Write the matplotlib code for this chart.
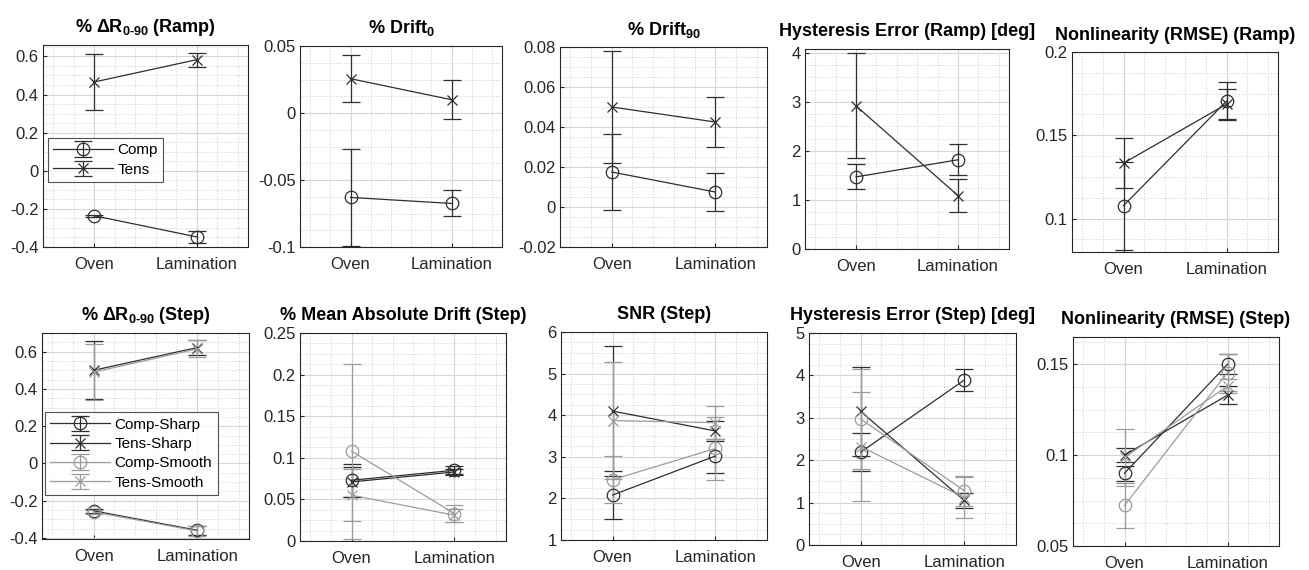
import matplotlib
matplotlib.use('Agg')
import matplotlib.pyplot as plt
import numpy as np
from matplotlib.ticker import MultipleLocator, FuncFormatter

plt.rcParams['font.family'] = ['Liberation Sans', 'DejaVu Sans']
plt.rcParams['mathtext.fontset'] = 'custom'
plt.rcParams['mathtext.rm'] = 'Liberation Sans'
plt.rcParams['mathtext.bf'] = 'Liberation Sans:bold'
plt.rcParams['mathtext.it'] = 'Liberation Sans:italic'

# ---------------- data ----------------
conditions = ['Oven', 'Lamination']
ramp_labels = ['Comp', 'Tens']
step_labels = ['Comp-Sharp', 'Tens-Sharp', 'Comp-Smooth', 'Tens-Smooth']

# Ramp (top row): values at [Oven, Lamination]
dR_ramp_comp = [-0.236, -0.347]
dR_ramp_comp_err = [0.006, 0.030]
dR_ramp_tens = [0.466, 0.583]
dR_ramp_tens_err = [0.148, 0.037]

drift0_comp = [-0.063, -0.0675]
drift0_comp_err = [0.036, 0.0097]
drift0_tens = [0.0256, 0.0099]
drift0_tens_err = [0.0175, 0.0145]

drift90_comp = [0.0175, 0.0075]
drift90_comp_err = [0.019, 0.0095]
drift90_tens = [0.050, 0.0425]
drift90_tens_err = [0.028, 0.0125]

hyst_ramp_comp = [1.47, 1.82]
hyst_ramp_comp_err = [0.255, 0.32]
hyst_ramp_tens = [2.92, 1.09]
hyst_ramp_tens_err = [1.07, 0.345]

nonlin_ramp_comp = [0.1078, 0.1705]
nonlin_ramp_comp_err = [0.0263, 0.0115]
nonlin_ramp_tens = [0.1333, 0.1687]
nonlin_ramp_tens_err = [0.0150, 0.009]

# Step (bottom row): values at [Oven, Lamination]
dR_step_comp_sharp = [-0.254, -0.358]
dR_step_comp_sharp_err = [0.010, 0.025]
dR_step_tens_sharp = [0.500, 0.622]
dR_step_tens_sharp_err = [0.155, 0.040]
dR_step_comp_smooth = [-0.260, -0.362]
dR_step_comp_smooth_err = [0.010, 0.028]
dR_step_tens_smooth = [0.490, 0.615]
dR_step_tens_smooth_err = [0.150, 0.045]

mad_step_comp_sharp = [0.073, 0.085]
mad_step_comp_sharp_err = [0.020, 0.005]
mad_step_tens_sharp = [0.071, 0.083]
mad_step_tens_sharp_err = [0.018, 0.004]
mad_step_comp_smooth = [0.108, 0.033]
mad_step_comp_smooth_err = [0.105, 0.010]
mad_step_tens_smooth = [0.055, 0.031]
mad_step_tens_smooth_err = [0.031, 0.008]

snr_comp_sharp = [2.08, 3.02]
snr_comp_sharp_err = [0.57, 0.40]
snr_tens_sharp = [4.10, 3.62]
snr_tens_sharp_err = [1.56, 0.25]
snr_comp_smooth = [2.45, 3.20]
snr_comp_smooth_err = [0.56, 0.75]
snr_tens_smooth = [3.87, 3.82]
snr_tens_smooth_err = [1.40, 0.40]

hyst_step_comp_sharp = [2.19, 3.89]
hyst_step_comp_sharp_err = [0.45, 0.25]
hyst_step_tens_sharp = [3.15, 1.05]
hyst_step_tens_sharp_err = [1.05, 0.18]
hyst_step_comp_smooth = [2.97, 1.28]
hyst_step_comp_smooth_err = [1.18, 0.35]
hyst_step_tens_smooth = [2.32, 1.12]
hyst_step_tens_smooth_err = [1.28, 0.48]

nonlin_step_comp_sharp = [0.090, 0.150]
nonlin_step_comp_sharp_err = [0.004, 0.0055]
nonlin_step_tens_sharp = [0.100, 0.133]
nonlin_step_tens_sharp_err = [0.004, 0.005]
nonlin_step_comp_smooth = [0.0723, 0.1454]
nonlin_step_comp_smooth_err = [0.0123, 0.010]
nonlin_step_tens_smooth = [0.0987, 0.138]
nonlin_step_tens_smooth_err = [0.0155, 0.004]

# ---------------- styling ----------------
W, H = 1309, 570
DARK = '#2e2e2e'
LIGHT = '#9c9c9c'
AX = '#262626'

fig = plt.figure(figsize=(W / 100, H / 100), dpi=100)

def make_ax(l, t, r, b):
    return fig.add_axes([l / W, 1 - b / H, (r - l) / W, (b - t) / H])

fmt = FuncFormatter(lambda v, p: f'{v:g}')

def style(ax, title, ylim, yticks, yminor):
    ax.set_xlim(0.5, 2.5)
    ax.set_ylim(*ylim)
    ax.set_xticks([1, 2])
    ax.set_xticklabels(conditions)
    ax.xaxis.set_minor_locator(MultipleLocator(0.2))
    ax.set_yticks(yticks)
    ax.yaxis.set_minor_locator(MultipleLocator(yminor))
    ax.yaxis.set_major_formatter(fmt)
    ax.grid(True, which='major', color='#d6d6d6', linewidth=0.8, linestyle='-')
    ax.grid(True, which='minor', color='#cfcfcf', linewidth=0.6, linestyle=(0, (1.5, 2)))
    ax.set_axisbelow(True)
    ax.tick_params(which='both', direction='in', colors=AX, labelsize=12, length=3)
    ax.tick_params(which='minor', length=0)
    ax.tick_params(axis='x', pad=7)
    ax.tick_params(axis='y', pad=3)
    for s in ax.spines.values():
        s.set_color(AX)
        s.set_linewidth(0.8)
    ax.set_title(title, fontsize=13, fontweight='bold', pad=9, color='black')

def series(ax, vals, errs, marker, color, label):
    x = np.arange(1, len(conditions) + 1)
    return ax.errorbar(x, vals, yerr=errs, fmt='-', marker=marker, color=color,
                       ecolor=color, markersize=9 if marker == 'o' else 6.5,
                       markerfacecolor='none', markeredgecolor=color,
                       markeredgewidth=0.9, linewidth=0.9, elinewidth=0.9,
                       capsize=6.5, capthick=0.9, label=label)

def add_legend(ax, handles, anchor):
    leg = ax.legend(handles=handles, loc='upper left', bbox_to_anchor=anchor,
                    fontsize=11, frameon=True, fancybox=False, edgecolor=AX,
                    handlelength=3.9, borderpad=0.35, labelspacing=0.35,
                    handletextpad=0.3, borderaxespad=0)
    leg.get_frame().set_linewidth(0.8)

SUB = '\u2010'  # hyphen used in the subscript "0-90"

# ---------------- top row (Ramp) ----------------
top_panels = [
    (make_ax(43, 45, 248, 247), '% Δ$\\mathbf{R_{0' + SUB + '90}}$ (Ramp)',
     (dR_ramp_comp, dR_ramp_comp_err), (dR_ramp_tens, dR_ramp_tens_err),
     (-0.4, 0.66), np.arange(-0.4, 0.61, 0.2), 0.05),
    (make_ax(300, 46, 502, 247), '% $\\mathbf{Drift_{0}}$',
     (drift0_comp, drift0_comp_err), (drift0_tens, drift0_tens_err),
     (-0.1, 0.05), np.arange(-0.1, 0.051, 0.05), 0.0125),
    (make_ax(560, 47, 767, 247), '% $\\mathbf{Drift_{90}}$',
     (drift90_comp, drift90_comp_err), (drift90_tens, drift90_tens_err),
     (-0.02, 0.08), np.arange(-0.02, 0.081, 0.02), 0.005),
    (make_ax(805, 49, 1009, 249), 'Hysteresis Error (Ramp) [deg]',
     (hyst_ramp_comp, hyst_ramp_comp_err), (hyst_ramp_tens, hyst_ramp_tens_err),
     (0, 4.08), np.arange(0, 4.01, 1), 0.25),
    (make_ax(1072, 52, 1278, 252), 'Nonlinearity (RMSE) (Ramp)',
     (nonlin_ramp_comp, nonlin_ramp_comp_err), (nonlin_ramp_tens, nonlin_ramp_tens_err),
     (0.08, 0.2), [0.1, 0.15, 0.2], 0.0125),
]

for i, (ax, title, comp, tens, ylim, yt, ym) in enumerate(top_panels):
    style(ax, title, ylim, yt, ym)
    h1 = series(ax, comp[0], comp[1], 'o', DARK, ramp_labels[0])
    h2 = series(ax, tens[0], tens[1], 'x', DARK, ramp_labels[1])
    if i == 0:
        add_legend(ax, [h1, h2], (0.025, 0.54))

# ---------------- bottom row (Step) ----------------
bottom_panels = [
    (make_ax(42, 333, 249, 539), '% Δ$\\mathbf{R_{0' + SUB + '90}}$ (Step)',
     [(dR_step_comp_sharp, dR_step_comp_sharp_err), (dR_step_tens_sharp, dR_step_tens_sharp_err),
      (dR_step_comp_smooth, dR_step_comp_smooth_err), (dR_step_tens_smooth, dR_step_tens_smooth_err)],
     (-0.405, 0.7), np.arange(-0.4, 0.61, 0.2), 0.05),
    (make_ax(300, 333, 506, 541), '% Mean Absolute Drift (Step)',
     [(mad_step_comp_sharp, mad_step_comp_sharp_err), (mad_step_tens_sharp, mad_step_tens_sharp_err),
      (mad_step_comp_smooth, mad_step_comp_smooth_err), (mad_step_tens_smooth, mad_step_tens_smooth_err)],
     (0, 0.25), np.arange(0, 0.251, 0.05), 0.0125),
    (make_ax(561, 332, 767, 540), 'SNR (Step)',
     [(snr_comp_sharp, snr_comp_sharp_err), (snr_tens_sharp, snr_tens_sharp_err),
      (snr_comp_smooth, snr_comp_smooth_err), (snr_tens_smooth, snr_tens_smooth_err)],
     (1, 6), np.arange(1, 6.01, 1), 0.25),
    (make_ax(809, 333, 1016, 545), 'Hysteresis Error (Step) [deg]',
     [(hyst_step_comp_sharp, hyst_step_comp_sharp_err), (hyst_step_tens_sharp, hyst_step_tens_sharp_err),
      (hyst_step_comp_smooth, hyst_step_comp_smooth_err), (hyst_step_tens_smooth, hyst_step_tens_smooth_err)],
     (0, 5), np.arange(0, 5.01, 1), 0.25),
    (make_ax(1073, 337, 1279, 546), 'Nonlinearity (RMSE) (Step)',
     [(nonlin_step_comp_sharp, nonlin_step_comp_sharp_err), (nonlin_step_tens_sharp, nonlin_step_tens_sharp_err),
      (nonlin_step_comp_smooth, nonlin_step_comp_smooth_err), (nonlin_step_tens_smooth, nonlin_step_tens_smooth_err)],
     (0.05, 0.165), [0.05, 0.1, 0.15], 0.0125),
]

step_markers = ['o', 'x', 'o', 'x']
step_colors = [DARK, DARK, LIGHT, LIGHT]

for i, (ax, title, ser, ylim, yt, ym) in enumerate(bottom_panels):
    style(ax, title, ylim, yt, ym)
    handles = []
    for (vals, errs), mk, col, lab in zip(ser, step_markers, step_colors, step_labels):
        handles.append(series(ax, vals, errs, mk, col, lab))
    if i == 0:
        add_legend(ax, handles, (0.015, 0.615))

fig.savefig('out.png', dpi=100, facecolor='white')
